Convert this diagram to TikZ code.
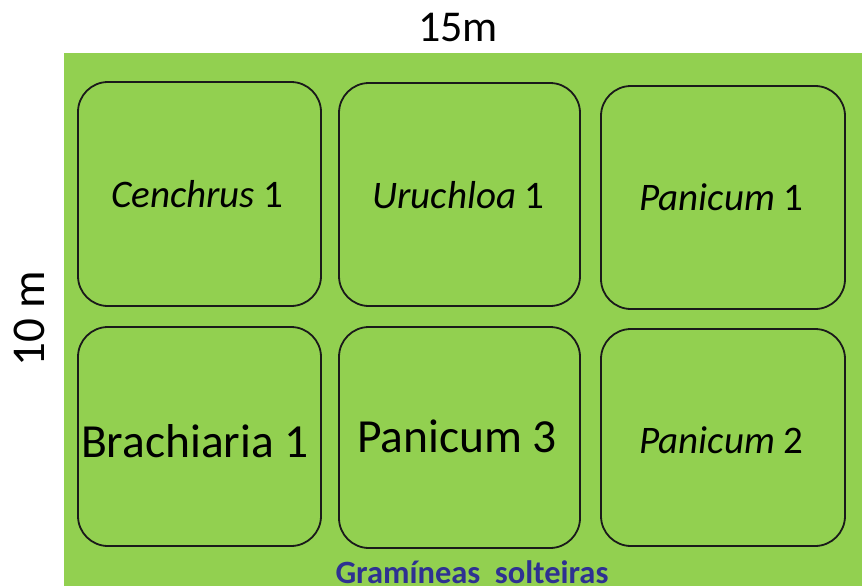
\documentclass[tikz,border=0pt]{standalone}
\usepackage{fontspec}
\setmainfont{Carlito}
\definecolor{plotgreen}{HTML}{92D050}
\definecolor{edgegray}{HTML}{1A1A1A}
\definecolor{titleblue}{HTML}{2E3192}
\tikzset{
  plot/.style={draw=edgegray, line width=1.8pt, rounded corners=30pt, inner sep=0pt, minimum width=#1},
  lab/.style={anchor=base, inner sep=0pt, font=\fontsize{39}{47}\selectfont\itshape},
  bigl/.style={anchor=base, inner sep=0pt, font=\fontsize{47.5}{56}\selectfont},
}
\begin{document}
\begin{tikzpicture}[x=1pt,y=-1pt]
\useasboundingbox (0,0) rectangle (862,586);
\fill[plotgreen] (64,53) rectangle (862,586);
% plots
\node[plot=243pt, minimum height=224pt] (p1) at (199.5,194) {};
\node[plot=241pt, minimum height=223pt] (p2) at (459.5,194.5) {};
\node[plot=244pt, minimum height=223pt] (p3) at (723,197.5) {};
\node[plot=243pt, minimum height=219pt] (p4) at (199.5,436.5) {};
\node[plot=241pt, minimum height=221pt] (p5) at (459.5,437.5) {};
\node[plot=244pt, minimum height=217pt] (p6) at (723,437.5) {};
% labels
\node[lab] (t1) at (197.5,207) {Cenchrus\/\upshape{} 1};
\node[lab] (t2) at (458.5,208) {Uruchloa\/\upshape{} 1};
\node[lab] (t3) at (721.5,210) {Panicum\/\upshape{} 1};
\node[bigl] (t4) at (195,457) {Brachiaria 1};
\node[bigl] (t5) at (457,452) {Panicum 3};
\node[lab] (t6) at (721.5,453) {Panicum\/\upshape{} 2};
% dimensions
\node[anchor=base, inner sep=0pt, font=\fontsize{44}{52}\selectfont] (w) at (458,42) {15m};
\node[anchor=base, inner sep=0pt, rotate=90, font=\fontsize{47}{56}\selectfont] (h) at (44,318.5) {10 m};
\node[anchor=base, inner sep=0pt, text=titleblue, font=\fontsize{32.5}{39}\selectfont\bfseries] (cap) at (472,583) {Gramíneas\hspace{0.45em}solteiras};
\end{tikzpicture}
\end{document}
